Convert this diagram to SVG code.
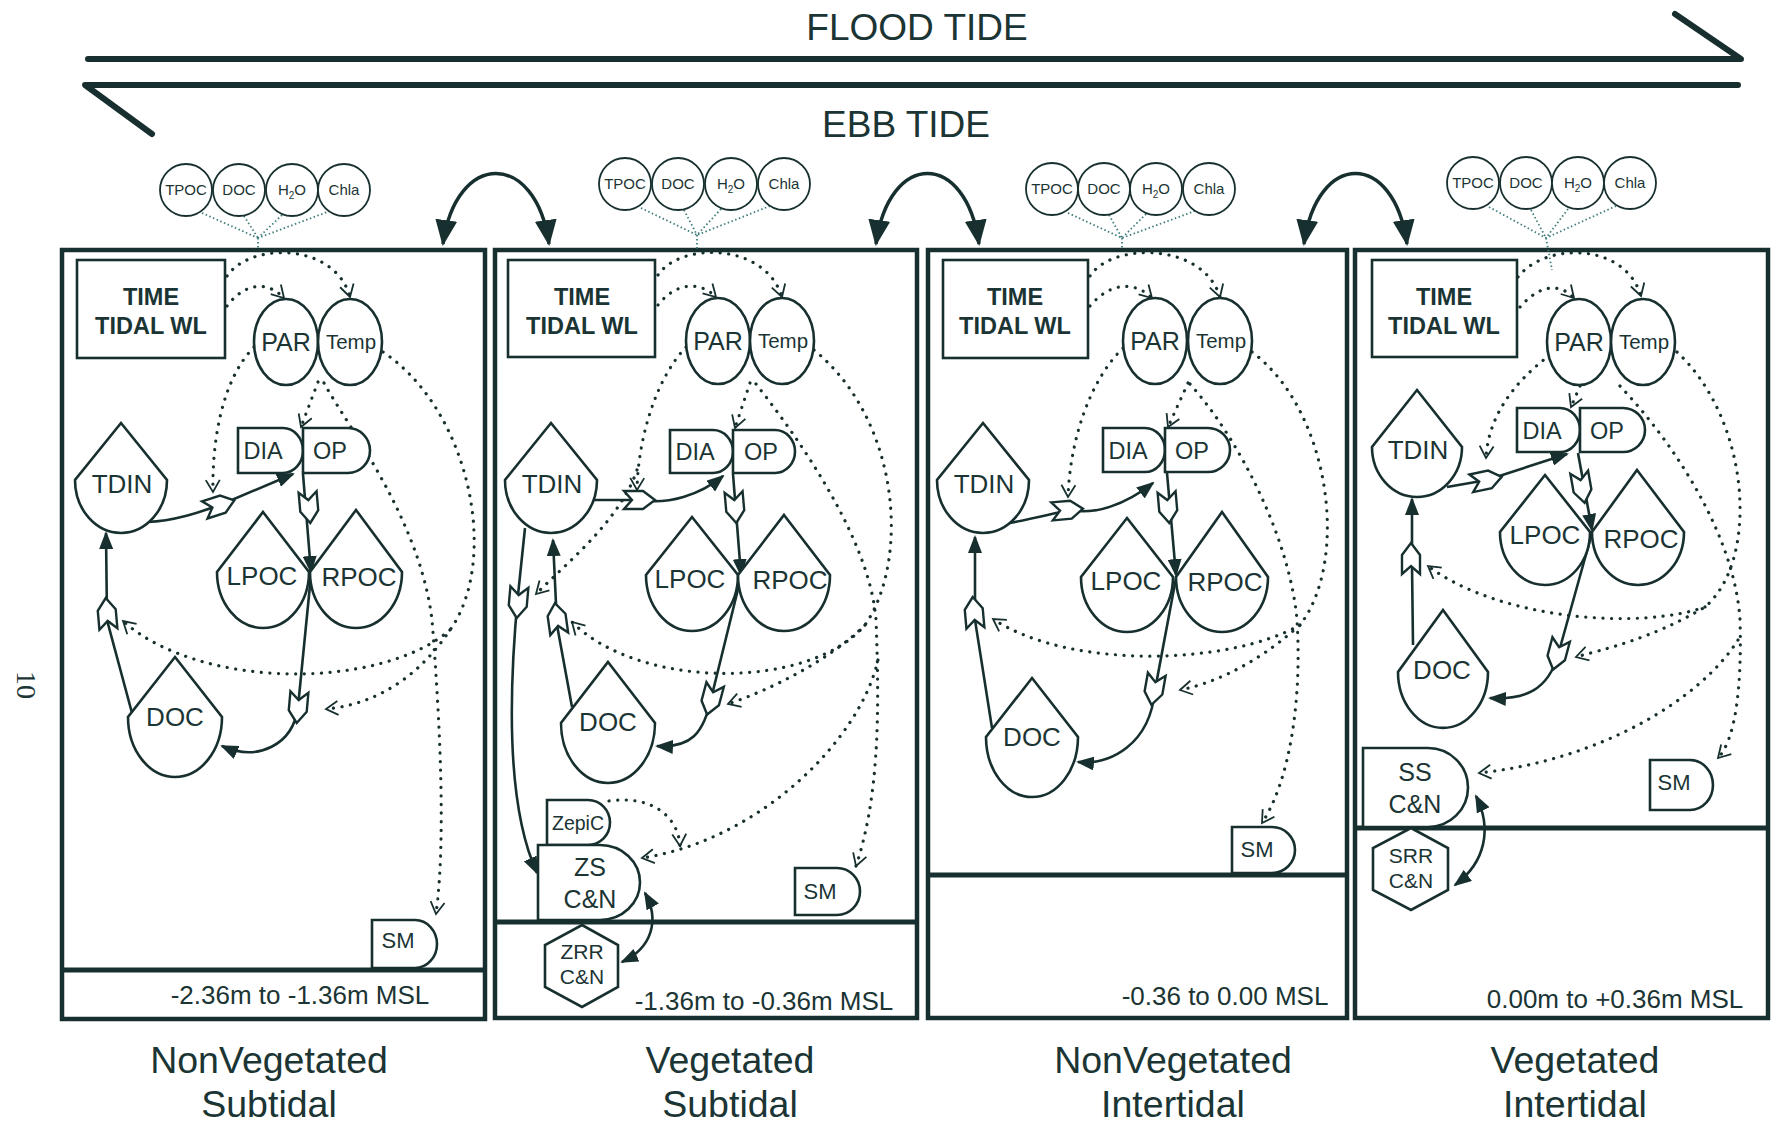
<svg xmlns="http://www.w3.org/2000/svg" xmlns:xlink="http://www.w3.org/1999/xlink" width="1772" height="1122" viewBox="0 0 1772 1122">
<style>
.bg{fill:#ffffff}
.n{fill:#ffffff;stroke:#17302f;stroke-width:2.6}
.panel{fill:none;stroke:#17302f;stroke-width:4.5}
.ground{fill:none;stroke:#17302f;stroke-width:5}
.tide{fill:none;stroke:#17302f;stroke-width:6;stroke-linecap:round;stroke-linejoin:round}
.flow{fill:none;stroke:#17302f;stroke-width:2.6;marker-end:url(#fa)}
.flow2{fill:none;stroke:#17302f;stroke-width:2.6;marker-end:url(#fa);marker-start:url(#fa)}
.xfer{fill:none;stroke:#17302f;stroke-width:3.5;marker-end:url(#fab);marker-start:url(#fab)}
.ctl{fill:none;stroke:#17302f;stroke-width:3.2;stroke-dasharray:0.1 8.5;stroke-linecap:round;marker-end:url(#oa)}
.wc{fill:none;stroke:#3f7d7c;stroke-width:1.8;stroke-dasharray:1.5 2.5}
.valve{fill:#ffffff;stroke:#17302f;stroke-width:2.4;stroke-linejoin:miter}
.circ{fill:#ffffff;stroke:#17302f;stroke-width:1.8}
text{font-family:"Liberation Sans",Arial,sans-serif;fill:#1b3434;text-anchor:middle}
.big{font-size:37px}
.lbl{font-size:37.5px}
.tm{font-size:23.5px;font-weight:bold}
.t26{font-size:26px}
.t25{font-size:25px}
.tpar{font-size:25px}
.ttemp{font-size:20.5px}
.tdo{font-size:23.5px}
.tsm{font-size:22px}
.t21{font-size:21px}
.tze{font-size:19.5px}
.t15{font-size:15px}
.rng{font-size:26px}
</style>
<defs>
<marker id="fa" markerUnits="userSpaceOnUse" markerWidth="18" markerHeight="14" viewBox="0 0 18 14" refX="16" refY="7" orient="auto-start-reverse">
<path d="M0,0 L18,7 L0,14 Z" fill="#17302f"/>
</marker>
<marker id="fab" markerUnits="userSpaceOnUse" markerWidth="26" markerHeight="22" viewBox="0 0 26 22" refX="24" refY="11" orient="auto-start-reverse">
<path d="M0,0 L26,11 L0,22 Z" fill="#17302f"/>
</marker>
<marker id="oa" markerUnits="userSpaceOnUse" markerWidth="16" markerHeight="16" viewBox="0 0 16 16" refX="13" refY="8" orient="auto">
<path d="M1,1 L13,8 L1,15" fill="none" stroke="#17302f" stroke-width="1.8"/>
</marker>
<path id="valve" d="M-16,-9 L3,-9 L15,0 L3,9 L-16,9 L-8,0 Z"/>
</defs>
<rect class="bg" x="0" y="0" width="1772" height="1122"/>

<!-- Tide arrows -->
<g id="flood-tide">
<polyline class="tide" points="88,59 1741,59 1675,14"/>
<text class="big" x="917" y="40">FLOOD TIDE</text>
</g>
<g id="ebb-tide">
<polyline class="tide" points="1738,85 85,85 152,134"/>
<text class="big" x="906" y="137">EBB TIDE</text>
</g>
<text transform="translate(17,685) rotate(90)" style="font-family:'Liberation Serif',serif;font-size:28px">10</text>

<!-- Panels -->
<g id="panel-1">
<rect class="panel" x="62" y="250" width="423" height="769"/>
<line class="ground" x1="62" y1="970" x2="485" y2="970"/>
<text class="rng" x="300" y="1004">-2.36m to -1.36m MSL</text>
<text class="lbl" x="269" y="1073">NonVegetated</text>
<text class="lbl" x="269" y="1117">Subtidal</text>
</g>
<g id="panel-2">
<rect class="panel" x="495" y="250" width="422" height="768"/>
<line class="ground" x1="495" y1="922" x2="917" y2="922"/>
<text class="rng" x="764" y="1010">-1.36m to -0.36m MSL</text>
<text class="lbl" x="730" y="1073">Vegetated</text>
<text class="lbl" x="730" y="1117">Subtidal</text>
</g>
<g id="panel-3">
<rect class="panel" x="928" y="250" width="419" height="768"/>
<line class="ground" x1="928" y1="875" x2="1347" y2="875"/>
<text class="rng" x="1225" y="1005">-0.36 to 0.00 MSL</text>
<text class="lbl" x="1173" y="1073">NonVegetated</text>
<text class="lbl" x="1173" y="1117">Intertidal</text>
</g>
<g id="panel-4">
<rect class="panel" x="1355" y="250" width="413" height="768"/>
<line class="ground" x1="1355" y1="828" x2="1768" y2="828"/>
<text class="rng" x="1615" y="1008">0.00m to +0.36m MSL</text>
<text class="lbl" x="1575" y="1073">Vegetated</text>
<text class="lbl" x="1575" y="1117">Intertidal</text>
</g>

<!-- Connectors -->
<g id="connectors">
<path class="xfer" d="M443,244 C456,150 536,150 549,244"/>
<path class="xfer" d="M876,244 C889,150 966,150 979,244"/>
<path class="xfer" d="M1304,244 C1317,150 1394,150 1407,244"/>
<path class="wc" d="M202,213 L258,238 M244,216 L258,238 M282,215 L258,238 M330,211 L258,238 M258,238 L258,250"/>
<path class="wc" d="M641,208 L697,235 M684,210 L697,235 M721,209 L697,235 M770,206 L697,235 M697,235 L697,250"/>
<path class="wc" d="M1068,213 L1122,238 M1109,215 L1122,238 M1146,214 L1122,238 M1195,211 L1122,238 M1122,238 L1122,250"/>
<path class="wc" d="M1489,207 L1546,238 M1531,210 L1546,238 M1568,209 L1546,238 M1616,206 L1546,238 M1546,238 L1552,270"/>

<!-- Panel 1 -->
<path class="flow" d="M147,522 C175,521 200,512 220,505 L293,474"/>
<path class="flow" d="M303,474 L311,572"/>
<path class="flow" d="M311,575 L298,707 C293,745 258,762 222,746"/>
<path class="flow" d="M132,713 L107,620 L106,533"/>
<path class="ctl" d="M227,276 C250,242 335,242 350,297"/>
<path class="ctl" d="M227,306 C245,282 268,281 284,298"/>
<path class="ctl" d="M254,347 C222,380 212,440 213,492"/>
<path class="ctl" d="M318,382 L301,427"/>
<path class="ctl" d="M383,352 C470,410 500,560 450,630 C410,690 360,706 326,709"/>
<path class="ctl" d="M450,630 C380,690 200,690 123,621"/>
<path class="ctl" d="M324,383 C350,430 420,520 432,620 C440,720 446,840 436,914"/>

<!-- Panel 2 -->
<path class="flow" d="M592,500 L640,500 C668,505 700,495 723,476"/>
<path class="flow" d="M733,474 L741,575"/>
<path class="flow" d="M741,577 L712,695 C704,735 690,748 657,746"/>
<path class="flow" d="M572,707 L557,625 L553,540"/>
<path class="flow" d="M525,528 L518,595 C508,700 508,810 537,873"/>
<path class="flow2" d="M645,893 C660,920 652,948 622,962"/>
<path class="ctl" d="M658,275 C680,242 765,242 782,297"/>
<path class="ctl" d="M658,305 C676,282 700,281 716,297"/>
<path class="ctl" d="M686,347 C655,380 638,440 637,490"/>
<path class="ctl" d="M637,470 C620,520 570,560 536,594"/>
<path class="ctl" d="M750,383 L735,428"/>
<path class="ctl" d="M814,350 C900,420 910,560 865,625 C810,690 640,690 572,622"/>
<path class="ctl" d="M865,625 C830,660 770,690 728,704"/>
<path class="ctl" d="M756,384 C800,440 870,540 876,620 C880,720 878,800 856,866"/>
<path class="ctl" d="M878,660 C860,740 760,840 642,858"/>
<path class="ctl" d="M609,801 C650,795 678,815 680,846"/>

<!-- Panel 3 -->
<path class="flow" d="M1010,523 C1035,518 1055,513 1070,510 C1095,515 1125,505 1153,483"/>
<path class="flow" d="M1167,473 L1176,575"/>
<path class="flow" d="M1176,578 L1155,690 C1150,745 1110,765 1078,762"/>
<path class="flow" d="M992,728 L975,620 L975,537"/>
<path class="ctl" d="M1090,276 C1112,242 1203,242 1220,297"/>
<path class="ctl" d="M1090,306 C1110,282 1135,281 1152,298"/>
<path class="ctl" d="M1123,348 C1090,380 1070,440 1068,497"/>
<path class="ctl" d="M1188,383 L1168,427"/>
<path class="ctl" d="M1252,352 C1330,410 1350,560 1300,625 C1250,670 1205,685 1180,690"/>
<path class="ctl" d="M1300,625 C1230,665 1070,670 993,619"/>
<path class="ctl" d="M1190,384 C1240,440 1290,540 1297,620 C1302,700 1290,780 1262,823"/>

<!-- Panel 4 -->
<path class="flow" d="M1447,487 L1487,480 L1567,454"/>
<path class="flow" d="M1578,453 L1592,530"/>
<path class="flow" d="M1592,533 L1558,655 C1548,690 1525,700 1490,698"/>
<path class="flow" d="M1413,645 L1412,565 L1412,499"/>
<path class="flow2" d="M1476,796 C1492,828 1486,862 1455,885"/>
<path class="ctl" d="M1518,277 C1545,242 1625,242 1641,296"/>
<path class="ctl" d="M1520,307 C1540,284 1560,283 1574,298"/>
<path class="ctl" d="M1550,355 C1510,385 1488,420 1486,458"/>
<path class="ctl" d="M1580,386 L1571,407"/>
<path class="ctl" d="M1677,352 C1750,420 1760,560 1705,607 C1650,640 1600,650 1576,657"/>
<path class="ctl" d="M1705,607 C1640,630 1500,620 1428,566"/>
<path class="ctl" d="M1620,386 C1680,450 1735,540 1740,620 C1742,690 1735,740 1718,758"/>
<path class="ctl" d="M1738,640 C1700,700 1600,760 1479,773"/>

<!-- valves -->
<use xlink:href="#valve" class="valve" transform="translate(220,505) rotate(-18)"/>
<use xlink:href="#valve" class="valve" transform="translate(309,508) rotate(85)"/>
<use xlink:href="#valve" class="valve" transform="translate(298,708) rotate(95)"/>
<use xlink:href="#valve" class="valve" transform="translate(107,613) rotate(-95)"/>
<use xlink:href="#valve" class="valve" transform="translate(640,500) rotate(0)"/>
<use xlink:href="#valve" class="valve" transform="translate(735,508) rotate(85)"/>
<use xlink:href="#valve" class="valve" transform="translate(711,700) rotate(105)"/>
<use xlink:href="#valve" class="valve" transform="translate(557,618) rotate(-98)"/>
<use xlink:href="#valve" class="valve" transform="translate(518,603) rotate(95)"/>
<use xlink:href="#valve" class="valve" transform="translate(1068,510) rotate(-5)"/>
<use xlink:href="#valve" class="valve" transform="translate(1168,508) rotate(85)"/>
<use xlink:href="#valve" class="valve" transform="translate(1154,690) rotate(100)"/>
<use xlink:href="#valve" class="valve" transform="translate(974,612) rotate(-95)"/>
<use xlink:href="#valve" class="valve" transform="translate(1487,480) rotate(-12)"/>
<use xlink:href="#valve" class="valve" transform="translate(1582,488) rotate(80)"/>
<use xlink:href="#valve" class="valve" transform="translate(1557,655) rotate(105)"/>
<use xlink:href="#valve" class="valve" transform="translate(1411,558) rotate(-90)"/>
</g>

<!-- Water column circles -->
<g id="wc-1">
<circle class="circ" cx="186" cy="190" r="26"/><text class="t15" x="186" y="195">TPOC</text>
<circle class="circ" cx="239" cy="190" r="26"/><text class="t15" x="239" y="195">DOC</text>
<circle class="circ" cx="292" cy="190" r="26"/><text class="t15" x="292" y="195">H<tspan font-size="10" dy="4">2</tspan><tspan dy="-4">O</tspan></text>
<circle class="circ" cx="344" cy="190" r="26"/><text class="t15" x="344" y="195">Chla</text>
</g>
<g id="wc-2">
<circle class="circ" cx="625" cy="184" r="26"/><text class="t15" x="625" y="189">TPOC</text>
<circle class="circ" cx="678" cy="184" r="26"/><text class="t15" x="678" y="189">DOC</text>
<circle class="circ" cx="731" cy="184" r="26"/><text class="t15" x="731" y="189">H<tspan font-size="10" dy="4">2</tspan><tspan dy="-4">O</tspan></text>
<circle class="circ" cx="784" cy="184" r="26"/><text class="t15" x="784" y="189">Chla</text>
</g>
<g id="wc-3">
<circle class="circ" cx="1052" cy="189" r="26"/><text class="t15" x="1052" y="194">TPOC</text>
<circle class="circ" cx="1104" cy="189" r="26"/><text class="t15" x="1104" y="194">DOC</text>
<circle class="circ" cx="1156" cy="189" r="26"/><text class="t15" x="1156" y="194">H<tspan font-size="10" dy="4">2</tspan><tspan dy="-4">O</tspan></text>
<circle class="circ" cx="1209" cy="189" r="26"/><text class="t15" x="1209" y="194">Chla</text>
</g>
<g id="wc-4">
<circle class="circ" cx="1473" cy="183" r="26"/><text class="t15" x="1473" y="188">TPOC</text>
<circle class="circ" cx="1526" cy="183" r="26"/><text class="t15" x="1526" y="188">DOC</text>
<circle class="circ" cx="1578" cy="183" r="26"/><text class="t15" x="1578" y="188">H<tspan font-size="10" dy="4">2</tspan><tspan dy="-4">O</tspan></text>
<circle class="circ" cx="1630" cy="183" r="26"/><text class="t15" x="1630" y="188">Chla</text>
</g>

<!-- Panel 1 nodes -->
<g id="p1-time"><rect class="n" x="77" y="260" width="148" height="98"/><text class="tm" x="151" y="305">TIME</text><text class="tm" x="151" y="334">TIDAL WL</text></g>
<g id="p1-par"><ellipse class="n" cx="286" cy="342" rx="32" ry="43"/><text class="tpar" x="286" y="351">PAR</text></g>
<g id="p1-temp"><ellipse class="n" cx="350" cy="342" rx="32" ry="43"/><text class="ttemp" x="351" y="349">Temp</text></g>
<g id="p1-dia"><path class="n" d="M238,428 H283 A20,22.5 0 0 1 283,473 H238 Z"/><text class="tdo" x="263" y="459">DIA</text></g>
<g id="p1-op"><path class="n" d="M303,428 H348 A22,22.5 0 0 1 348,473 H303 Z"/><text class="tdo" x="330" y="459">OP</text></g>
<g id="p1-tdin"><path class="n" d="M121,423 L167,480 A46,53 0 0 1 75,480 Z"/><text class="t26" x="122" y="493">TDIN</text></g>
<g id="p1-lpoc"><path class="n" d="M263,512 L309,572 A46,56 0 0 1 217,572 Z"/><text class="t26" x="262" y="585">LPOC</text></g>
<g id="p1-rpoc"><path class="n" d="M356,510 L402,572 A46,56 0 0 1 310,572 Z"/><text class="t26" x="359" y="586">RPOC</text></g>
<g id="p1-doc"><path class="n" d="M175,657 L222,717 A47,60 0 0 1 128,717 Z"/><text class="t26" x="175" y="726">DOC</text></g>
<g id="p1-sm"><path class="n" d="M372,920 H415 A22,24 0 0 1 415,968 H372 Z"/><text class="tsm" x="398" y="948">SM</text></g>

<!-- Panel 2 nodes -->
<g id="p2-time"><rect class="n" x="508" y="260" width="147" height="97"/><text class="tm" x="582" y="305">TIME</text><text class="tm" x="582" y="334">TIDAL WL</text></g>
<g id="p2-par"><ellipse class="n" cx="718" cy="341" rx="32" ry="43"/><text class="tpar" x="718" y="350">PAR</text></g>
<g id="p2-temp"><ellipse class="n" cx="782" cy="341" rx="32" ry="43"/><text class="ttemp" x="783" y="348">Temp</text></g>
<g id="p2-dia"><path class="n" d="M670,430 H713 A20,21.5 0 0 1 713,473 H670 Z"/><text class="tdo" x="695" y="460">DIA</text></g>
<g id="p2-op"><path class="n" d="M733,430 H775 A20,21.5 0 0 1 775,473 H733 Z"/><text class="tdo" x="761" y="460">OP</text></g>
<g id="p2-tdin"><path class="n" d="M551,423 L597,480 A46,53 0 0 1 505,480 Z"/><text class="t26" x="552" y="493">TDIN</text></g>
<g id="p2-lpoc"><path class="n" d="M692,517 L738,575 A46,56 0 0 1 646,575 Z"/><text class="t26" x="690" y="588">LPOC</text></g>
<g id="p2-rpoc"><path class="n" d="M784,515 L830,575 A46,56 0 0 1 738,575 Z"/><text class="t26" x="790" y="589">RPOC</text></g>
<g id="p2-doc"><path class="n" d="M608,662 L655,723 A47,60 0 0 1 561,723 Z"/><text class="t26" x="608" y="731">DOC</text></g>
<g id="p2-zepic"><path class="n" d="M547,845 V800 H588 A22,22.5 0 0 1 588,845 Z"/><text class="tze" x="578" y="830">ZepiC</text></g>
<g id="p2-zs"><path class="n" d="M538,920 V845 H600 A40,37.5 0 0 1 600,920 Z"/><text class="t25" x="590" y="876">ZS</text><text class="t25" x="590" y="908">C&amp;N</text></g>
<g id="p2-zrr"><polygon class="n" points="582,925 618,945 618,987 582,1007 545,987 545,945"/><text class="t21" x="582" y="959">ZRR</text><text class="t21" x="582" y="984">C&amp;N</text></g>
<g id="p2-sm"><path class="n" d="M795,868 H837 A23,23.5 0 0 1 837,915 H795 Z"/><text class="tsm" x="820" y="899">SM</text></g>

<!-- Panel 3 nodes -->
<g id="p3-time"><rect class="n" x="943" y="260" width="145" height="98"/><text class="tm" x="1015" y="305">TIME</text><text class="tm" x="1015" y="334">TIDAL WL</text></g>
<g id="p3-par"><ellipse class="n" cx="1155" cy="341" rx="32" ry="43"/><text class="tpar" x="1155" y="350">PAR</text></g>
<g id="p3-temp"><ellipse class="n" cx="1220" cy="341" rx="32" ry="43"/><text class="ttemp" x="1221" y="348">Temp</text></g>
<g id="p3-dia"><path class="n" d="M1103,428 H1145 A20,22 0 0 1 1145,472 H1103 Z"/><text class="tdo" x="1128" y="459">DIA</text></g>
<g id="p3-op"><path class="n" d="M1165,428 H1208 A22,22 0 0 1 1208,472 H1165 Z"/><text class="tdo" x="1192" y="459">OP</text></g>
<g id="p3-tdin"><path class="n" d="M983,423 L1029,480 A46,53 0 0 1 937,480 Z"/><text class="t26" x="984" y="493">TDIN</text></g>
<g id="p3-lpoc"><path class="n" d="M1127,518 L1173,577 A46,55 0 0 1 1081,577 Z"/><text class="t26" x="1126" y="590">LPOC</text></g>
<g id="p3-rpoc"><path class="n" d="M1222,512 L1268,577 A46,55 0 0 1 1176,577 Z"/><text class="t26" x="1225" y="591">RPOC</text></g>
<g id="p3-doc"><path class="n" d="M1032,678 L1078,737 A46,60 0 0 1 986,737 Z"/><text class="t26" x="1032" y="746">DOC</text></g>
<g id="p3-sm"><path class="n" d="M1232,827 H1272 A23,23 0 0 1 1272,873 H1232 Z"/><text class="tsm" x="1257" y="857">SM</text></g>

<!-- Panel 4 nodes -->
<g id="p4-time"><rect class="n" x="1372" y="260" width="145" height="97"/><text class="tm" x="1444" y="305">TIME</text><text class="tm" x="1444" y="334">TIDAL WL</text></g>
<g id="p4-par"><ellipse class="n" cx="1579" cy="342" rx="32" ry="43"/><text class="tpar" x="1579" y="351">PAR</text></g>
<g id="p4-temp"><ellipse class="n" cx="1643" cy="342" rx="32" ry="43"/><text class="ttemp" x="1644" y="349">Temp</text></g>
<g id="p4-dia"><path class="n" d="M1517,408 H1560 A20,22 0 0 1 1560,452 H1517 Z"/><text class="tdo" x="1542" y="439">DIA</text></g>
<g id="p4-op"><path class="n" d="M1580,408 H1623 A22,22 0 0 1 1623,452 H1580 Z"/><text class="tdo" x="1607" y="439">OP</text></g>
<g id="p4-tdin"><path class="n" d="M1417,390 L1462,447 A45,50 0 0 1 1372,447 Z"/><text class="t26" x="1418" y="459">TDIN</text></g>
<g id="p4-lpoc"><path class="n" d="M1545,475 L1590,532 A45,53 0 0 1 1500,532 Z"/><text class="t26" x="1545" y="544">LPOC</text></g>
<g id="p4-rpoc"><path class="n" d="M1637,470 L1684,532 A46,53 0 0 1 1592,532 Z"/><text class="t26" x="1641" y="548">RPOC</text></g>
<g id="p4-doc"><path class="n" d="M1443,610 L1488,672 A45,56 0 0 1 1398,672 Z"/><text class="t26" x="1442" y="679">DOC</text></g>
<g id="p4-ss"><path class="n" d="M1363,827 V748 H1428 A40,39.5 0 0 1 1428,827 Z"/><text class="t25" x="1415" y="781">SS</text><text class="t25" x="1415" y="813">C&amp;N</text></g>
<g id="p4-srr"><polygon class="n" points="1411,828 1448,848 1448,890 1411,910 1373,890 1373,848"/><text class="t21" x="1411" y="863">SRR</text><text class="t21" x="1411" y="888">C&amp;N</text></g>
<g id="p4-sm"><path class="n" d="M1650,760 H1690 A23,25 0 0 1 1690,810 H1650 Z"/><text class="tsm" x="1674" y="790">SM</text></g>
</svg>
